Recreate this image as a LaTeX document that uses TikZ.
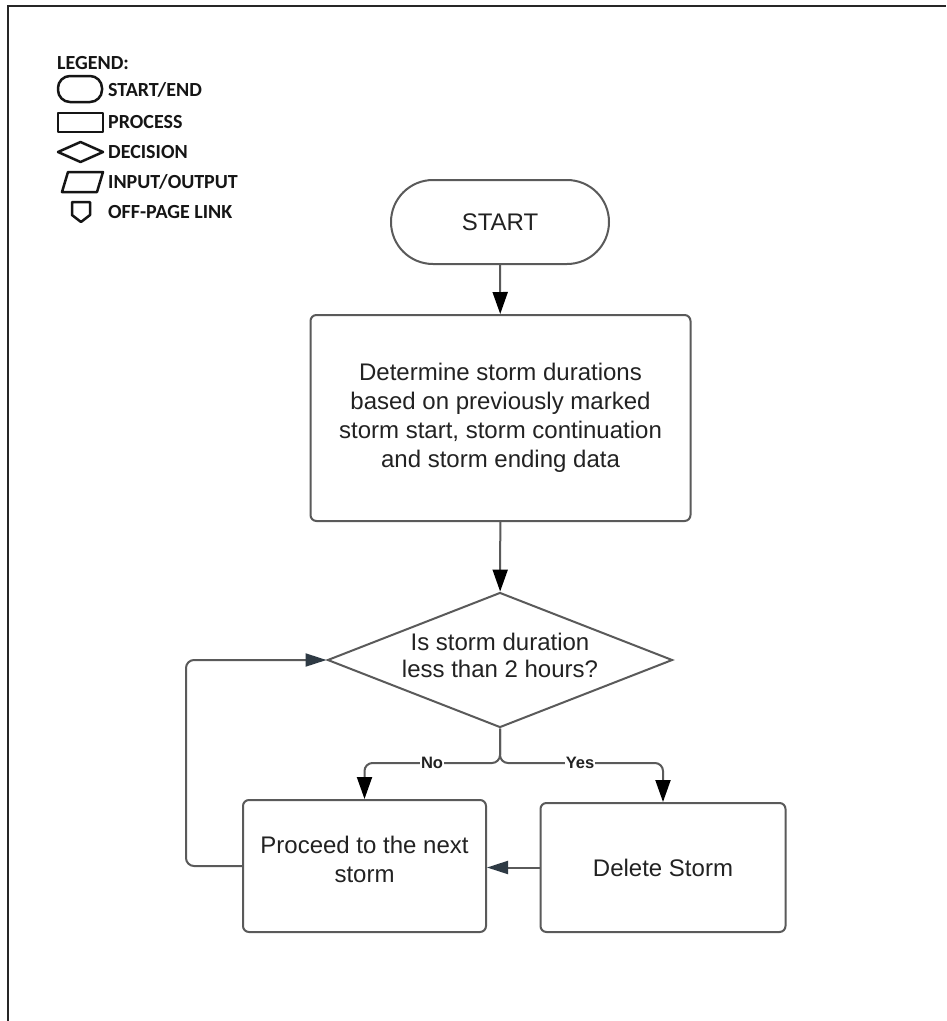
\documentclass[tikz,border=0pt]{standalone}
\usepackage{fontspec}
\setmainfont{Liberation Sans}
\newfontfamily\legfont{Carlito}
\usetikzlibrary{arrows.meta,shapes.geometric}
\definecolor{linegray}{HTML}{5A5A5A}
\definecolor{tipgray}{HTML}{2E3A44}
\definecolor{txt}{HTML}{222222}
\definecolor{legcol}{HTML}{151515}
\begin{document}
\begin{tikzpicture}[x=1pt,y=-1pt,
  mainfont/.style={font=\fontsize{24}{29}\selectfont, text=txt},
  startend/.style={draw=linegray, line width=2pt, rectangle, rounded corners=42pt, minimum width=218pt, minimum height=84pt, inner sep=0pt, mainfont},
  procbox/.style={draw=linegray, line width=2pt, rectangle, rounded corners=6pt, inner sep=0pt, align=center, mainfont},
  decision/.style={draw=linegray, line width=2pt, diamond, aspect=2.55, minimum width=345pt, minimum height=135pt, inner sep=0pt},
  dectext/.style={inner sep=0pt, align=center, font=\fontsize{24}{27}\selectfont, text=txt},
  arr/.style={draw=linegray, line width=2pt, -{Triangle[width=15pt,length=22pt,color=black]}},
  sidearr/.style={draw=linegray, line width=2pt, -{Triangle[width=13pt,length=21pt,color=tipgray]}},
  branch/.style={draw=linegray, line width=2pt, rounded corners=8pt},
  lbl/.style={fill=white, inner sep=1pt, font=\bfseries\fontsize{16.5}{18}\selectfont, text=txt},
  legshape/.style={draw=legcol, line width=2.5pt, line join=round},
  legtext/.style={anchor=west, inner sep=0pt, text=legcol, font=\legfont\bfseries\fontsize{20}{22}\selectfont}
]
\useasboundingbox (0,0) rectangle (946,1021);
\fill[white] (0,0) rectangle (946,1021);
% frame
\draw[draw=black!85, line width=2pt] (8,1021) -- (8,6) -- (946,6);

% legend
\node[legtext] (leghead) at (57,63) {LEGEND:};
\draw[legshape, rounded corners=12pt] (58,76) rectangle (102,102);
\node[legtext] (legse) at (108,90) {START/END};
\draw[legshape] (58,113) rectangle (103,132);
\node[legtext] (legproc) at (108,122) {PROCESS};
\draw[legshape] (58,152) -- (80.5,142) -- (103,152) -- (80.5,162) -- cycle;
\node[legtext] (legdec) at (108,152) {DECISION};
\draw[legshape] (62,192) -- (68,172) -- (103,172) -- (97,192) -- cycle;
\node[legtext] (legio) at (108,182) {INPUT/OUTPUT};
\draw[legshape] (72,202) -- (90,202) -- (90,215) -- (81,222) -- (72,215) -- cycle;
\node[legtext] (legopl) at (108,212) {OFF-PAGE LINK};

% main nodes
\node[startend] (start) at (500,222) {START};
\node[procbox, minimum width=380pt, minimum height=206pt] (proc) at (500.5,418)
  {Determine storm durations\\based on previously marked\\storm start, storm continuation\\and storm ending data};
\node[decision] (dec) at (500,660) {};
\node[dectext] (dectxt) at (500,655) {Is storm duration\\less than 2 hours?};
\node[procbox, minimum width=243pt, minimum height=132pt] (next) at (364.5,866) {Proceed to the next\\storm\\[-16pt]\mbox{}};
\node[procbox, minimum width=245pt, minimum height=129pt] (del) at (663,867.5) {Delete Storm};

\coordinate (split) at (500,763);

% connectors
\draw[arr] (start) -- (proc);
\draw[arr] (proc) -- (dec);
\draw[branch] (dec.south) -- (split) -| ([yshift=16pt]next.north);
\draw[arr] ([yshift=20pt]next.north) -- (next.north);
\draw[branch] (dec.south) -- (split) -| ([yshift=16pt]del.north);
\draw[arr] ([yshift=20pt]del.north) -- (del.north);
\node[lbl] (no) at (432,763) {No};
\node[lbl] (yes) at (580,763) {Yes};
\draw[sidearr, rounded corners=8pt] (next.west) -- ++(-56,0) |- (dec.west);
\draw[sidearr] (del.west) -- (next.east |- del.west);
\end{tikzpicture}
\end{document}
